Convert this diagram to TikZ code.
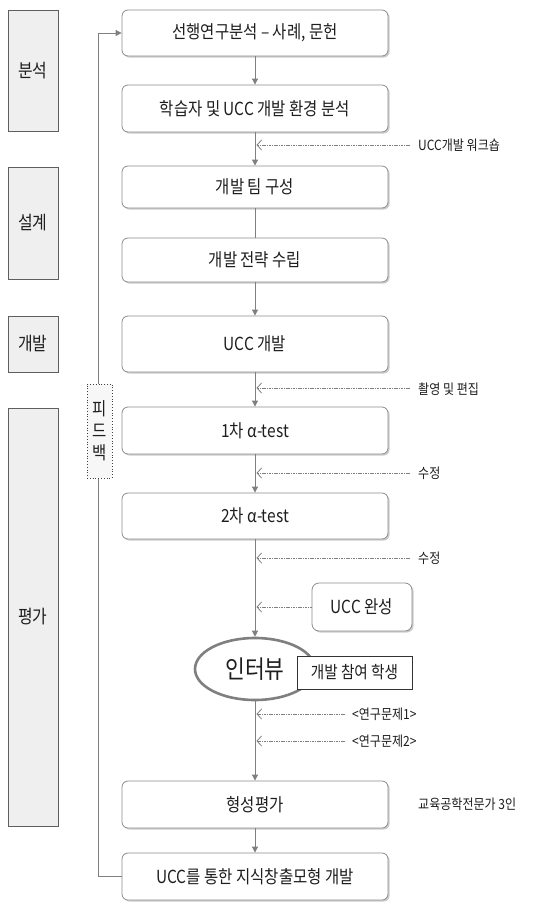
\documentclass[tikz,border=0pt]{standalone}
\usepackage{fontspec}
\setmainfont{Noto Sans CJK KR}[FakeStretch=0.86]
\usetikzlibrary{arrows.meta,shadows,shapes.geometric}
\definecolor{linegray}{HTML}{7F7F7F}
\definecolor{boxborder}{HTML}{8C8C8C}
\definecolor{phasefill}{HTML}{EFEFEF}
\definecolor{phaseborder}{HTML}{5F5F5F}
\definecolor{txt}{HTML}{1E1E1E}
\begin{document}
\begin{tikzpicture}[x=1pt,y=-1pt,
  mainbox/.style={draw=boxborder, line width=0.8pt, rounded corners=6pt, fill=white,
    minimum width=266pt, align=center, text=txt, font=\fontsize{18}{20}\selectfont,
    drop shadow={shadow xshift=1.6pt, shadow yshift=-1.6pt, fill=black!40, opacity=0.5}},
  phase/.style={draw=phaseborder, fill=phasefill, line width=0.8pt, minimum width=50pt,
    text=txt, font=\fontsize{18.5}{20}\selectfont},
  flow/.style={draw=linegray, line width=0.8pt, -{Triangle[length=6pt,width=6pt]}},
  plainline/.style={draw=linegray, line width=0.8pt},
  dasharrow/.style={draw=linegray, line width=0.8pt, dash pattern=on 1.6pt off 0.8pt,
    -{Straight Barb[length=4.5pt,width=10pt]}},
  small/.style={anchor=west, inner sep=0pt, text=txt, font=\fontsize{14}{16}\selectfont}
]
\useasboundingbox (0,0) rectangle (555,902);

% phase boxes
\node[phase, minimum height=121pt] (p1) at (33,70.5) {분석};
\node[phase, minimum height=112pt] (p2) at (33,223) {설계};
\node[phase, minimum height=56pt] (p3) at (33,344) {개발};
\node[phase, minimum height=418pt] (p4) at (33,617) {평가};

% main boxes
\node[mainbox, minimum height=46pt] (b1) at (255,33) {선행연구분석 – 사례, 문헌};
\node[mainbox, minimum height=47pt] (b2) at (255,108.5) {학습자 및 UCC 개발 환경 분석};
\node[mainbox, minimum height=42pt] (b3) at (255,187) {개발 팀 구성};
\node[mainbox, minimum height=44pt] (b4) at (255,260) {개발 전략 수립};
\node[mainbox, minimum height=56pt] (b5) at (255,344) {UCC 개발};
\node[mainbox, minimum height=47pt] (b6) at (255,430.5) {1차 α-test};
\node[mainbox, minimum height=46pt] (b7) at (255,516) {2차 α-test};
\node[mainbox, minimum height=47pt] (b8) at (255,804.5) {형성평가};
\node[mainbox, minimum height=47pt] (b9) at (255,876.5) {UCC를 통한 지식창출모형 개발};

\node[mainbox, minimum width=100pt, minimum height=48pt, rounded corners=7pt] (ucc) at (362,607) {UCC 완성};

\node[ellipse, draw=linegray, line width=2.6pt, fill=white, minimum width=120pt,
  minimum height=62pt, inner sep=0pt, text=txt, font=\fontsize{25}{27}\selectfont] (iv) at (255,669) {인터뷰};
\node[draw=black!80, line width=0.8pt, fill=white, minimum width=115pt, minimum height=33pt,
  inner sep=0pt, text=txt, font=\fontsize{17}{19}\selectfont] (stu) at (354.5,672.5) {개발 참여 학생};

% spine
\draw[flow] (b1) -- (b2);
\draw[flow] (b2) -- (b3);
\draw[plainline] (b3) -- (b4);
\draw[flow] (b4) -- (b5);
\draw[flow] (b5) -- (b6);
\draw[flow] (b6) -- (b7);
\draw[flow] (b7) -- (iv);
\draw[flow] (iv) -- (b8);
\draw[flow] (b8) -- (b9);

% feedback loop
\draw[flow] (b9.west) -- ++(-23,0) |- (b1.west);
\node[draw=black!75, dotted, line width=0.8pt, fill=gray!6, minimum width=25pt, minimum height=94pt,
  inner sep=0pt, align=center, text=txt, font=\fontsize{18}{22}\selectfont] (fb) at (99.5,431) {피\\드\\백};

% side inputs
\coordinate (s1) at (256.5,145); \coordinate (e1) at (410,145);
\coordinate (s2) at (256.5,388); \coordinate (e2) at (410,388);
\coordinate (s3) at (256.5,473); \coordinate (e3) at (410,473);
\coordinate (s4) at (256.5,558); \coordinate (e4) at (410,558);
\coordinate (s5) at (256.5,607);
\coordinate (s6) at (256.5,714); \coordinate (e6) at (345,714);
\coordinate (s7) at (256.5,741); \coordinate (e7) at (345,741);

\draw[dasharrow] (e1) -- (s1);
\draw[dasharrow] (e2) -- (s2);
\draw[dasharrow] (e3) -- (s3);
\draw[dasharrow] (e4) -- (s4);
\draw[dasharrow] (ucc.west) -- (s5);
\draw[dasharrow] (e6) -- (s6);
\draw[dasharrow] (e7) -- (s7);

\node[small] (t1) at (418,145) {UCC개발 워크숍};
\node[small] (t2) at (418,389) {촬영 및 편집};
\node[small] (t3) at (418,473) {수정};
\node[small] (t4) at (418,558) {수정};
\node[small] (t6) at (352,714) {<연구문제1>};
\node[small] (t7) at (352,741) {<연구문제2>};
\node[small] (t8) at (418,804) {교육공학전문가 3인};
\end{tikzpicture}
\end{document}
